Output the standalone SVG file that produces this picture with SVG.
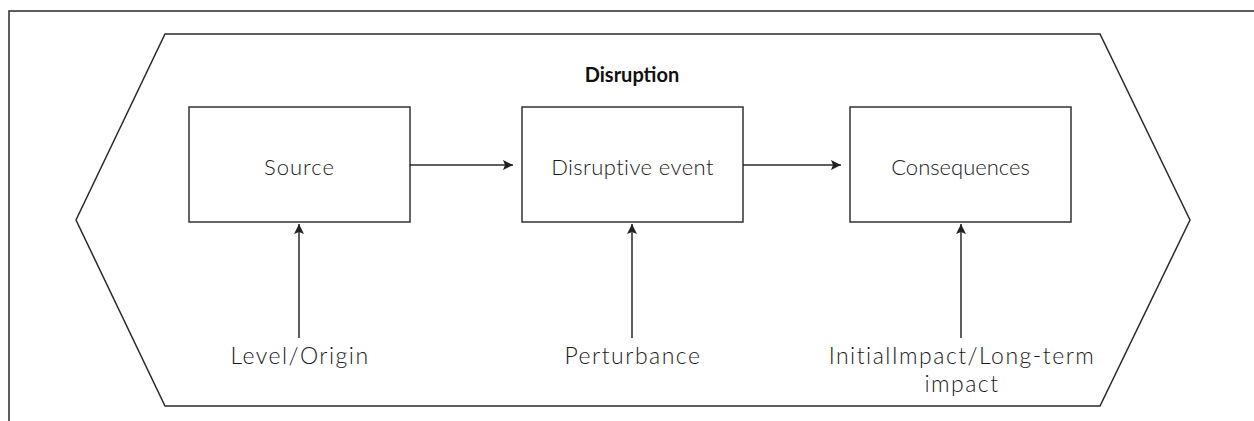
<svg xmlns="http://www.w3.org/2000/svg" width="1254" height="421" viewBox="0 0 1254 421">
<style>
.ln{fill:none;stroke:#2a2a2a;stroke-width:1.5}
.bx{fill:#fff;stroke:#333;stroke-width:1.5}
.t{font-family:Lato,"Open Sans","Liberation Sans",sans-serif;font-weight:300;font-size:22px;fill:#1a1a1a;text-anchor:middle}
.b{font-size:23px;letter-spacing:1.5px}
.h{font-family:Lato,"Open Sans","Liberation Sans",sans-serif;font-weight:700;font-size:20px;fill:#111;text-anchor:middle}
</style>
<defs>
<marker id="ah" viewBox="0 0 10 10" refX="10" refY="5" markerWidth="10" markerHeight="10" markerUnits="userSpaceOnUse" orient="auto">
<path d="M0,0 L10,5 L0,10 L2,5 Z" fill="#222"/>
</marker>
</defs>
<rect width="1254" height="421" fill="#fff"/>
<path class="ln" d="M9,421 V11 H1254"/>
<g id="disruption">
<polygon class="ln" points="165,34 1100,34 1190,220 1100,406 165,406 76,220"/>
<text class="h" x="632" y="82">Disruption</text>
</g>
<g id="source">
<rect class="bx" x="189" y="107" width="221" height="115"/>
<text class="t" x="299.5" y="175" letter-spacing="1">Source</text>
</g>
<g id="event">
<rect class="bx" x="522" y="107" width="221" height="115"/>
<text class="t" x="632.5" y="175" letter-spacing="0.4">Disruptive event</text>
</g>
<g id="consequences">
<rect class="bx" x="850" y="107" width="221" height="115"/>
<text class="t" x="960.5" y="175">Consequences</text>
</g>
<g id="level">
<text class="t b" x="300" y="364">Level/Origin</text>
</g>
<g id="perturbance">
<text class="t b" x="633" y="364">Perturbance</text>
</g>
<g id="impact">
<text class="t b" x="962" y="364">InitialImpact/Long-term</text>
<text class="t b" x="962" y="392">impact</text>
</g>
<g id="connectors">
<line class="ln" x1="410" y1="165" x2="513" y2="165" marker-end="url(#ah)"/>
<line class="ln" x1="743" y1="165" x2="841" y2="165" marker-end="url(#ah)"/>
<line class="ln" x1="299" y1="338" x2="299" y2="224" marker-end="url(#ah)"/>
<line class="ln" x1="632" y1="338" x2="632" y2="224" marker-end="url(#ah)"/>
<line class="ln" x1="961" y1="338" x2="961" y2="224" marker-end="url(#ah)"/>
</g>
</svg>
